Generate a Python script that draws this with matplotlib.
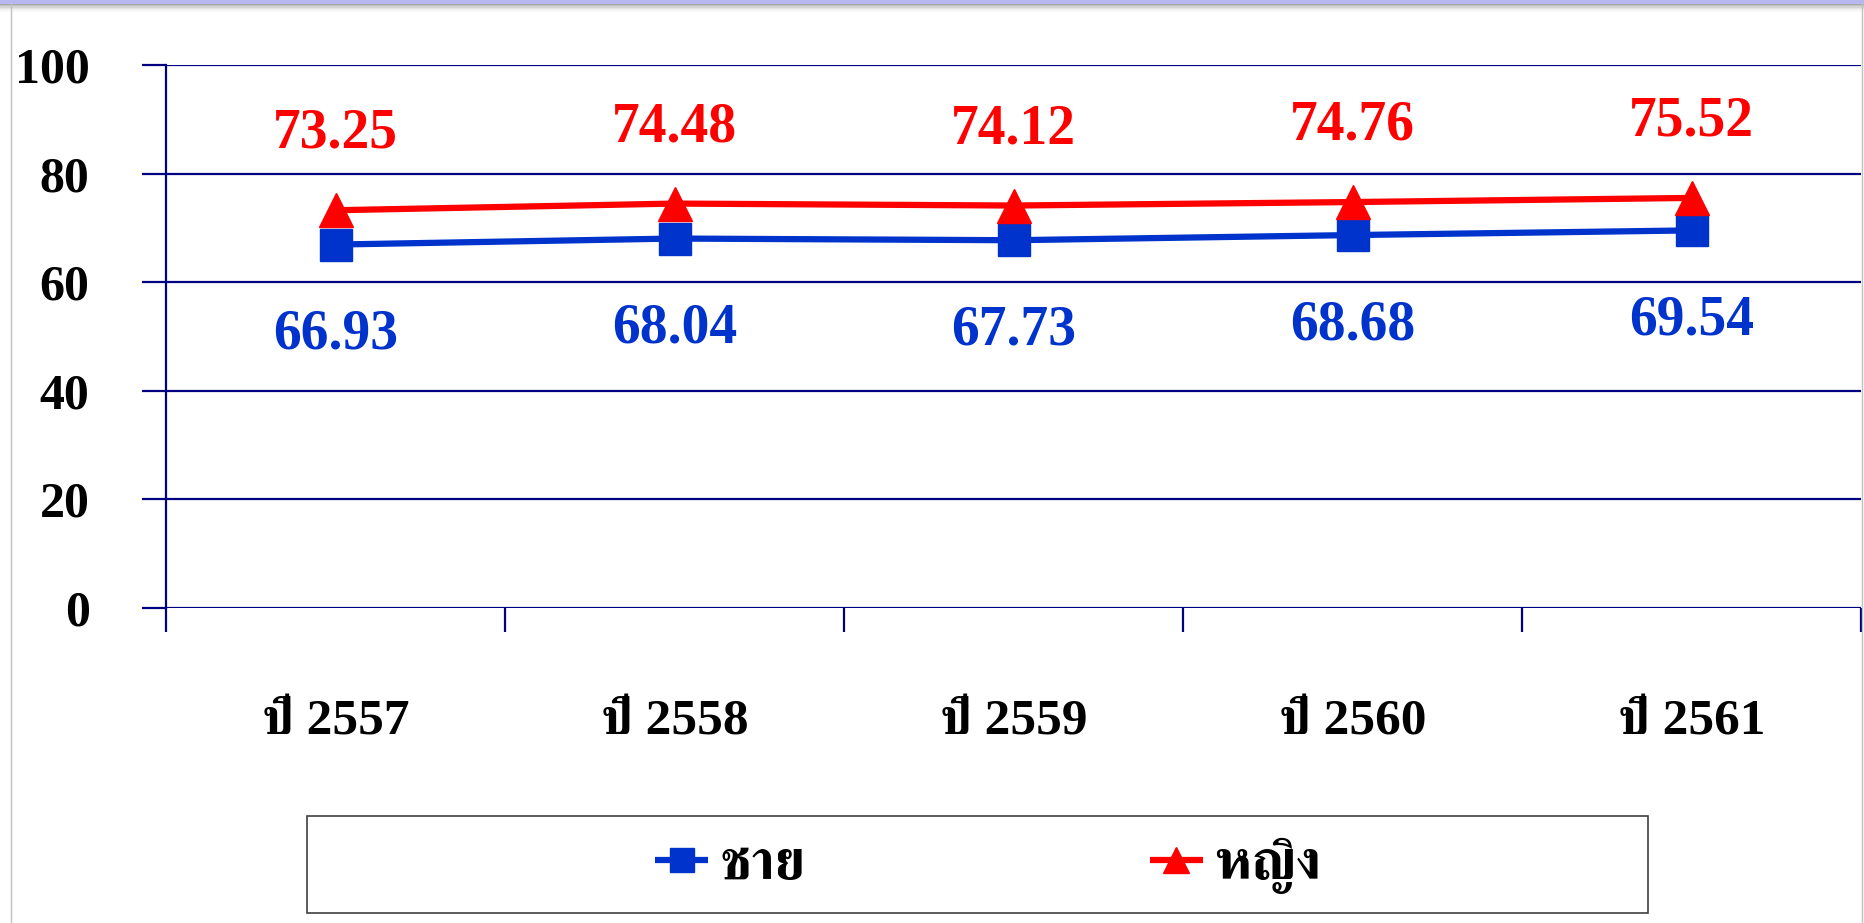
import matplotlib
matplotlib.use('Agg')
import matplotlib.pyplot as plt
from matplotlib.patches import Rectangle
import numpy as np

# --- ДАННЫЕ ---
years = ['ปี 2557', 'ปี 2558', 'ปี 2559', 'ปี 2560', 'ปี 2561']
male = [66.93, 68.04, 67.73, 68.68, 69.54]
female = [73.25, 74.48, 74.12, 74.76, 75.52]
series_names = ['ชาย', 'หญิง']
y_ticks = [0, 20, 40, 60, 80, 100]

NAVY = '#000080'
BLUE = '#0033CC'
RED = '#FF0000'
SERIF = ['Liberation Serif', 'FreeSerif', 'Noto Serif Thai']

plt.rcParams['font.family'] = SERIF

fig = plt.figure(figsize=(18.65, 9.23), dpi=100)
ax = fig.add_axes([166 / 1865, 1 - 608 / 923, (1861 - 166) / 1865, (608 - 65) / 923])

x = np.arange(1, len(years) + 1)
ax.plot(x, male, color=BLUE, lw=4.5, marker='s', ms=23, label=series_names[0],
        solid_capstyle='butt', zorder=3)
ax.plot(x, female, color=RED, lw=4.5, marker='^', ms=25, label=series_names[1],
        solid_capstyle='butt', zorder=4)

for xi, v in zip(x, female):
    ax.annotate(f'{v:.2f}', (xi, v), xytext=(0, 55), textcoords='offset points',
                ha='center', va='center', color=RED, fontsize=40, fontweight='bold')
for xi, v in zip(x, male):
    ax.annotate(f'{v:.2f}', (xi, v), xytext=(0, -65), textcoords='offset points',
                ha='center', va='center', color=BLUE, fontsize=40, fontweight='bold')

ax.set_xlim(0.5, len(years) + 0.5)
ax.set_ylim(0, 100)
ax.set_yticks(y_ticks)
ax.set_yticklabels([str(t) for t in y_ticks], fontsize=36, fontweight='bold')
ax.tick_params(axis='y', direction='out', length=17, width=1.6, color=NAVY, pad=38)

ax.set_xticks(x)
ax.set_xticklabels(years, fontsize=37, fontweight='bold')
ax.set_xticks(np.arange(0.5, len(years) + 1), minor=True)
ax.tick_params(axis='x', which='major', length=0, pad=66)
ax.tick_params(axis='x', which='minor', direction='out', length=17, width=1.6, color=NAVY)

ax.grid(axis='y', color=NAVY, lw=1.6)
ax.set_axisbelow(True)
for side in ['top', 'right', 'bottom']:
    ax.spines[side].set_visible(False)
ax.spines['left'].set_color(NAVY)
ax.spines['left'].set_linewidth(1.6)

# рамка легенды
fig.patches.append(Rectangle((307 / 1865, 1 - 913 / 923), 1341 / 1865, 97 / 923,
                             transform=fig.transFigure, fill=False, ec='#404040', lw=1.2))
fig.legend(loc='center', bbox_to_anchor=(988 / 1865, 1 - 866 / 923), ncol=2,
           frameon=False, markerscale=0.75, handlelength=0.95,
           handletextpad=0.2, columnspacing=6.2,
           prop={'family': SERIF, 'size': 40, 'weight': 'bold'})

# рамка слайда
fig.patches.append(Rectangle((0, 1 - 4 / 923), 1, 4 / 923, transform=fig.transFigure,
                             color='#B8B8F0', lw=0))
for i, c in enumerate(['#A8A8A8', '#C0C0C0', '#D4D4D4', '#E4E4E4', '#F0F0F0', '#F8F8F8']):
    fig.patches.append(Rectangle((0, 1 - (5 + i * 1.3) / 923), 1, 1.3 / 923,
                                 transform=fig.transFigure, color=c, lw=0))
fig.add_artist(plt.Line2D([11 / 1865] * 2, [0, 1 - 4 / 923], transform=fig.transFigure,
                          color='#C0C0C0', lw=1))
fig.add_artist(plt.Line2D([1862 / 1865] * 2, [0, 1 - 4 / 923], transform=fig.transFigure,
                          color='#C0C0C0', lw=1))

fig.savefig('out.png', dpi=100)
